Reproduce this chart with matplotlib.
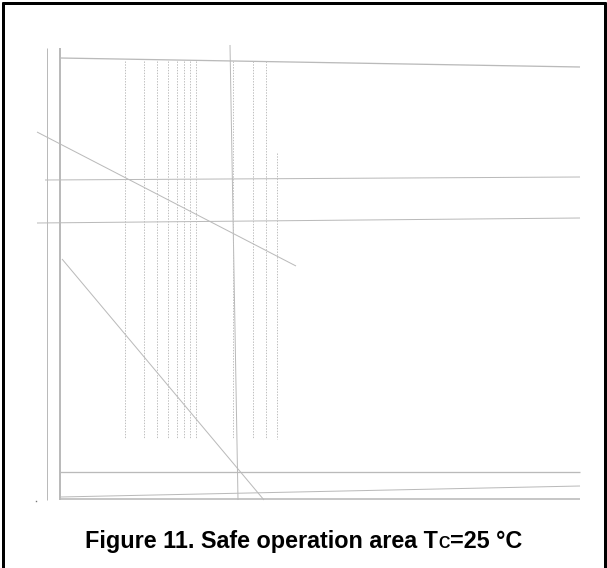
import matplotlib
matplotlib.use("Agg")
import matplotlib.pyplot as plt

# Solid gray strokes (x0, y0, x1, y1) in picture units
solid_x0 = [47, 60, 60, 230, 45, 37, 37, 62, 60, 60, 60]
solid_y0 = [48, 48, 58, 45, 180, 223, 132, 259, 472, 497, 499]
solid_x1 = [47, 60, 580, 238, 580, 580, 296, 264, 580, 580, 580]
solid_y1 = [500, 500, 67, 500, 177, 218, 266, 500, 472, 486, 499]
solid_w = [1, 2, 1.3, 1, 1, 1, 1, 1, 1.3, 1, 1.6]

# Dotted verticals: x position, top and bottom
dot_x = [125, 143.7, 157.3, 168, 176.7, 184, 190.3, 195.7, 233.3, 252.7, 266, 276.7]
dot_top = [61, 61, 61, 61, 61, 61, 61, 61, 61, 61, 61, 153]
dot_bot = [439, 439, 439, 439, 439, 439, 439, 439, 439, 439, 439, 439]

caption = "Figure 11. Safe operation area T"
caption_sub = "C"
caption_end = "=25 °C"

W, H = 607, 568
fig = plt.figure(figsize=(W / 100, H / 100), dpi=100)
ax = fig.add_axes([0, 0, 1, 1])
ax.set_xlim(0, W)
ax.set_ylim(H, 0)
ax.axis("off")

px = 0.72  # one pixel in points

# black frame
ax.plot([3, 3], [2, H], color="black", lw=3 * px, solid_capstyle="butt")
ax.plot([1.5, 605.5], [3, 3], color="black", lw=3 * px, solid_capstyle="butt")
ax.plot([605, 605], [2, H], color="black", lw=3 * px, solid_capstyle="butt")

for i in range(len(solid_x0)):
    ax.plot([solid_x0[i], solid_x1[i]], [solid_y0[i], solid_y1[i]],
            color="#bababa", lw=solid_w[i] * px, solid_capstyle="butt")

for i in range(len(dot_x)):
    ax.plot([dot_x[i], dot_x[i]], [dot_top[i], dot_bot[i]],
            color="#c0c0c0", lw=1 * px, ls=(0, (1.4, 1.4)))

ax.plot([35.7], [501.3], marker="s", ms=1, color="#777777", mec="none")

# caption with small C after T, centred on the frame
fig.canvas.draw()
r = fig.canvas.get_renderer()
fam = ["Liberation Sans", "DejaVu Sans"]
fs = 16.8
base = (H - 548) / H
parts = [(caption, fs), (caption_sub, fs * 0.68), (caption_end, fs)]
texts = []
for s, size in parts:
    t = fig.text(0, base, s, fontsize=size, fontweight="bold", family=fam,
                 ha="left", va="baseline")
    texts.append(t)
widths = [t.get_window_extent(r).width for t in texts]
x = 303.5 - sum(widths) / 2
for t, w in zip(texts, widths):
    t.set_x(x / W)
    x += w

fig.savefig("out.png", dpi=100)
